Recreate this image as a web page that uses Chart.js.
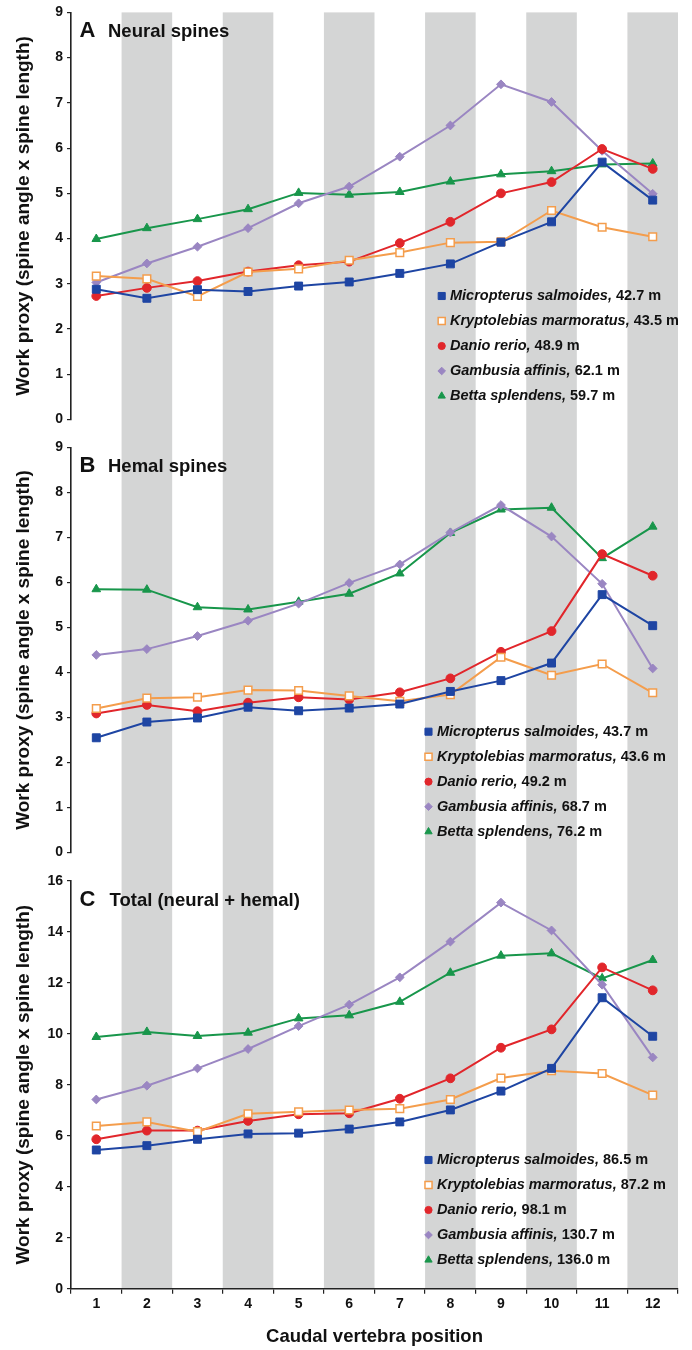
<!DOCTYPE html>
<html>
<head>
<meta charset="utf-8">
<script src="https://cdn.jsdelivr.net/npm/chart.js@4.4.1/dist/chart.umd.min.js"></script>
<style>
  html, body { margin: 0; padding: 0; background: #ffffff; }
  #figure { position: relative; width: 692px; height: 1350px; overflow: hidden; }
  #figure canvas { position: absolute; left: 0; display: block; }
</style>
</head>
<body>
<div id="figure">
  <canvas id="neural" width="692" height="435" style="top:0px"></canvas>
  <canvas id="hemal" width="692" height="430" style="top:435px"></canvas>
  <canvas id="total" width="692" height="485" style="top:865px"></canvas>
</div>
<script>
// Caudal vertebra positions along the x axis
const positions = ['1', '2', '3', '4', '5', '6', '7', '8', '9', '10', '11', '12'];

// Species and their summed work proxy for each panel
const species = ['Micropterus salmoides', 'Kryptolebias marmoratus', 'Danio rerio', 'Gambusia affinis', 'Betta splendens'];
const neuralTotals = ['42.7', '43.5', '48.9', '62.1', '59.7'];
const hemalTotals  = ['43.7', '43.6', '49.2', '68.7', '76.2'];
const overallTotals = ['86.5', '87.2', '98.1', '130.7', '136.0'];

// A  Neural spines
const neuralMicropterus  = [2.88, 2.68, 2.87, 2.83, 2.95, 3.04, 3.23, 3.44, 3.92, 4.37, 5.69, 4.85];
const neuralKryptolebias = [3.17, 3.11, 2.72, 3.26, 3.33, 3.52, 3.69, 3.91, 3.93, 4.62, 4.25, 4.04];
const neuralDanio        = [2.73, 2.91, 3.06, 3.27, 3.41, 3.49, 3.90, 4.37, 5.00, 5.25, 5.98, 5.54];
const neuralGambusia     = [3.03, 3.45, 3.82, 4.23, 4.78, 5.15, 5.81, 6.50, 7.41, 7.02, 5.94, 4.99];
const neuralBetta        = [3.99, 4.23, 4.43, 4.65, 5.01, 4.97, 5.03, 5.26, 5.42, 5.49, 5.64, 5.66];

// B  Hemal spines
const hemalMicropterus  = [2.55, 2.90, 2.99, 3.23, 3.15, 3.21, 3.30, 3.58, 3.82, 4.21, 5.73, 5.04];
const hemalKryptolebias = [3.20, 3.43, 3.45, 3.61, 3.60, 3.48, 3.36, 3.51, 4.34, 3.94, 4.19, 3.55];
const hemalDanio        = [3.09, 3.28, 3.14, 3.33, 3.45, 3.40, 3.56, 3.87, 4.46, 4.92, 6.63, 6.15];
const hemalGambusia     = [4.39, 4.52, 4.81, 5.15, 5.53, 5.99, 6.40, 7.11, 7.72, 7.02, 5.97, 4.09];
const hemalBetta        = [5.85, 5.84, 5.45, 5.40, 5.57, 5.75, 6.20, 7.10, 7.62, 7.66, 6.54, 7.24];

// C  Total (neural + hemal)
const totalMicropterus  = [5.44, 5.61, 5.86, 6.07, 6.10, 6.26, 6.54, 7.01, 7.75, 8.64, 11.41, 9.90];
const totalKryptolebias = [6.38, 6.54, 6.16, 6.86, 6.94, 7.01, 7.06, 7.42, 8.26, 8.55, 8.44, 7.59];
const totalDanio        = [5.86, 6.20, 6.20, 6.58, 6.84, 6.88, 7.45, 8.25, 9.45, 10.17, 12.60, 11.70];
const totalGambusia     = [7.42, 7.96, 8.64, 9.40, 10.30, 11.14, 12.21, 13.61, 15.14, 14.05, 11.92, 9.07];
const totalBetta        = [9.87, 10.07, 9.91, 10.04, 10.60, 10.72, 11.25, 12.39, 13.06, 13.15, 12.17, 12.89];

const FONT = '"Liberation Sans", Arial, Helvetica, sans-serif';
const INK = '#111111';

// Marker and line style per species
const speciesStyle = [
  { color: '#1e45a3', fill: '#1e45a3', pointStyle: 'rect',     radius: 5.6, legendRadius: 5,   borderWidth: 1 },
  { color: '#f49d4c', fill: '#ffffff', pointStyle: 'rect',     radius: 5.4, legendRadius: 5,   borderWidth: 1.5 },
  { color: '#e1262b', fill: '#e1262b', pointStyle: 'circle',   radius: 4.4, legendRadius: 3.6, borderWidth: 1 },
  { color: '#9a86c2', fill: '#9a86c2', pointStyle: 'rectRot',  radius: 4.4, legendRadius: 3.8, borderWidth: 1 },
  { color: '#18964b', fill: '#18964b', pointStyle: 'triangle', radius: 5,   legendRadius: 4.2, borderWidth: 1 }
];

// Grey bands behind every even vertebra position
const evenBands = {
  id: 'evenBands',
  beforeDraw(chart, args, opts) {
    const { ctx, chartArea, scales: { x } } = chart;
    const top = opts.fromCanvasTop ? 0 : chartArea.top;
    const bottom = opts.toCanvasBottom ? chart.height : chartArea.bottom;
    const half = (x.getPixelForValue(1) - x.getPixelForValue(0)) / 2;
    ctx.save();
    ctx.fillStyle = opts.color;
    positions.forEach((p, i) => {
      if ((i + 1) % 2 === 0) {
        const cx = x.getPixelForValue(i);
        ctx.fillRect(cx - half, top, half * 2, bottom - top);
      }
    });
    ctx.restore();
  }
};

// Panel letter and heading in the upper left corner
const panelHeading = {
  id: 'panelHeading',
  afterDraw(chart, args, opts) {
    const { ctx, chartArea } = chart;
    ctx.save();
    ctx.fillStyle = INK;
    ctx.textBaseline = 'alphabetic';
    ctx.textAlign = 'left';
    ctx.font = 'bold 22px ' + FONT;
    ctx.fillText(opts.letter, chartArea.left + 8.5, chartArea.top + 25);
    ctx.font = 'bold 18.5px ' + FONT;
    ctx.fillText(opts.text, chartArea.left + opts.textOffset, chartArea.top + 25);
    ctx.restore();
  }
};

// Species key: italic name followed by the upright summed value
const speciesKey = {
  id: 'speciesKey',
  afterDatasetsDraw(chart, args, opts) {
    const { ctx } = chart;
    ctx.save();
    ctx.textBaseline = 'middle';
    ctx.textAlign = 'left';
    species.forEach((name, i) => {
      const st = speciesStyle[i];
      const y = opts.y + i * opts.rowGap;
      ctx.fillStyle = st.fill;
      ctx.strokeStyle = st.color;
      ctx.lineWidth = st.borderWidth;
      Chart.helpers.drawPoint(ctx, {
        pointStyle: st.pointStyle, radius: st.legendRadius, rotation: 0, borderWidth: st.borderWidth
      }, opts.markerX, y);
      ctx.fillStyle = INK;
      ctx.font = 'italic bold 14.5px ' + FONT;
      const italicPart = name + ',';
      ctx.fillText(italicPart, opts.textX, y);
      const w = ctx.measureText(italicPart).width;
      ctx.font = 'bold 14.5px ' + FONT;
      ctx.fillText(' ' + opts.values[i] + ' m', opts.textX + w, y);
    });
    ctx.restore();
  }
};

function buildDatasets(seriesList) {
  return seriesList.map((values, i) => {
    const st = speciesStyle[i];
    return {
      label: species[i],
      data: values,
      borderColor: st.color,
      backgroundColor: st.fill,
      borderWidth: 2,
      tension: 0,
      pointStyle: st.pointStyle,
      pointRadius: st.radius,
      pointHoverRadius: st.radius,
      pointBackgroundColor: st.fill,
      pointBorderColor: st.color,
      pointBorderWidth: st.borderWidth
    };
  });
}

function makePanel(canvasId, cfg) {
  new Chart(document.getElementById(canvasId), {
    type: 'line',
    data: { labels: positions, datasets: buildDatasets(cfg.series) },
    options: {
      responsive: false,
      animation: false,
      devicePixelRatio: 1,
      layout: { padding: { top: cfg.padTop, bottom: cfg.padBottom, left: 0, right: 14 } },
      scales: {
        x: {
          type: 'category',
          offset: true,
          display: cfg.showX,
          grid: {
            offset: true, drawOnChartArea: false, drawTicks: true,
            tickLength: 5, color: '#222222', lineWidth: 1.2
          },
          border: { display: true, color: '#222222', width: 1.6 },
          ticks: {
            color: INK, autoSkip: false, maxRotation: 0, padding: 2,
            font: { family: FONT, size: 14, weight: 'bold' }
          },
          title: {
            display: true, text: 'Caudal vertebra position', color: INK,
            font: { family: FONT, size: 18.5, weight: 'bold' },
            padding: { top: 0, bottom: 2 }
          },
          afterFit(scale) { scale.height = cfg.showX ? 61.3 : 0; }
        },
        y: {
          min: 0,
          max: cfg.yMax,
          grid: {
            drawOnChartArea: false, drawTicks: true,
            tickLength: 4, color: '#222222', lineWidth: 1.2
          },
          border: { display: true, color: '#222222', width: 1.6 },
          ticks: {
            stepSize: cfg.yStep, color: INK, padding: 4,
            font: { family: FONT, size: 14, weight: 'bold' }
          },
          title: {
            display: true, text: 'Work proxy (spine angle x spine length)', color: INK,
            font: { family: FONT, size: 19, weight: 'bold' },
            padding: { top: 12.5, bottom: 0 }
          },
          afterFit(scale) { scale.width = 71; }
        }
      },
      plugins: {
        legend: { display: false },
        tooltip: { enabled: false },
        evenBands: { color: '#d4d5d5', fromCanvasTop: cfg.bandFromTop, toCanvasBottom: cfg.bandToBottom },
        panelHeading: { letter: cfg.letter, text: cfg.heading, textOffset: cfg.headingOffset },
        speciesKey: { values: cfg.keyValues, markerX: cfg.keyMarkerX, textX: cfg.keyTextX, y: cfg.keyY, rowGap: 25 }
      }
    },
    plugins: [evenBands, panelHeading, speciesKey]
  });
}

makePanel('neural', {
  series: [neuralMicropterus, neuralKryptolebias, neuralDanio, neuralGambusia, neuralBetta],
  yMax: 9, yStep: 1, showX: false, padTop: 11, padBottom: 15.5,
  bandFromTop: false, bandToBottom: true,
  letter: 'A', heading: 'Neural spines', headingOffset: 37,
  keyValues: neuralTotals, keyMarkerX: 441.7, keyTextX: 450, keyY: 296
});

makePanel('hemal', {
  series: [hemalMicropterus, hemalKryptolebias, hemalDanio, hemalGambusia, hemalBetta],
  yMax: 9, yStep: 1, showX: false, padTop: 11, padBottom: 11,
  bandFromTop: true, bandToBottom: true,
  letter: 'B', heading: 'Hemal spines', headingOffset: 37,
  keyValues: hemalTotals, keyMarkerX: 428.5, keyTextX: 437, keyY: 296.7
});

makePanel('total', {
  series: [totalMicropterus, totalKryptolebias, totalDanio, totalGambusia, totalBetta],
  yMax: 16, yStep: 2, showX: true, padTop: 15.7, padBottom: 0,
  bandFromTop: true, bandToBottom: false,
  letter: 'C', heading: 'Total (neural + hemal)', headingOffset: 38.5,
  keyValues: overallTotals, keyMarkerX: 428.5, keyTextX: 437, keyY: 295
});
</script>
</body>
</html>
